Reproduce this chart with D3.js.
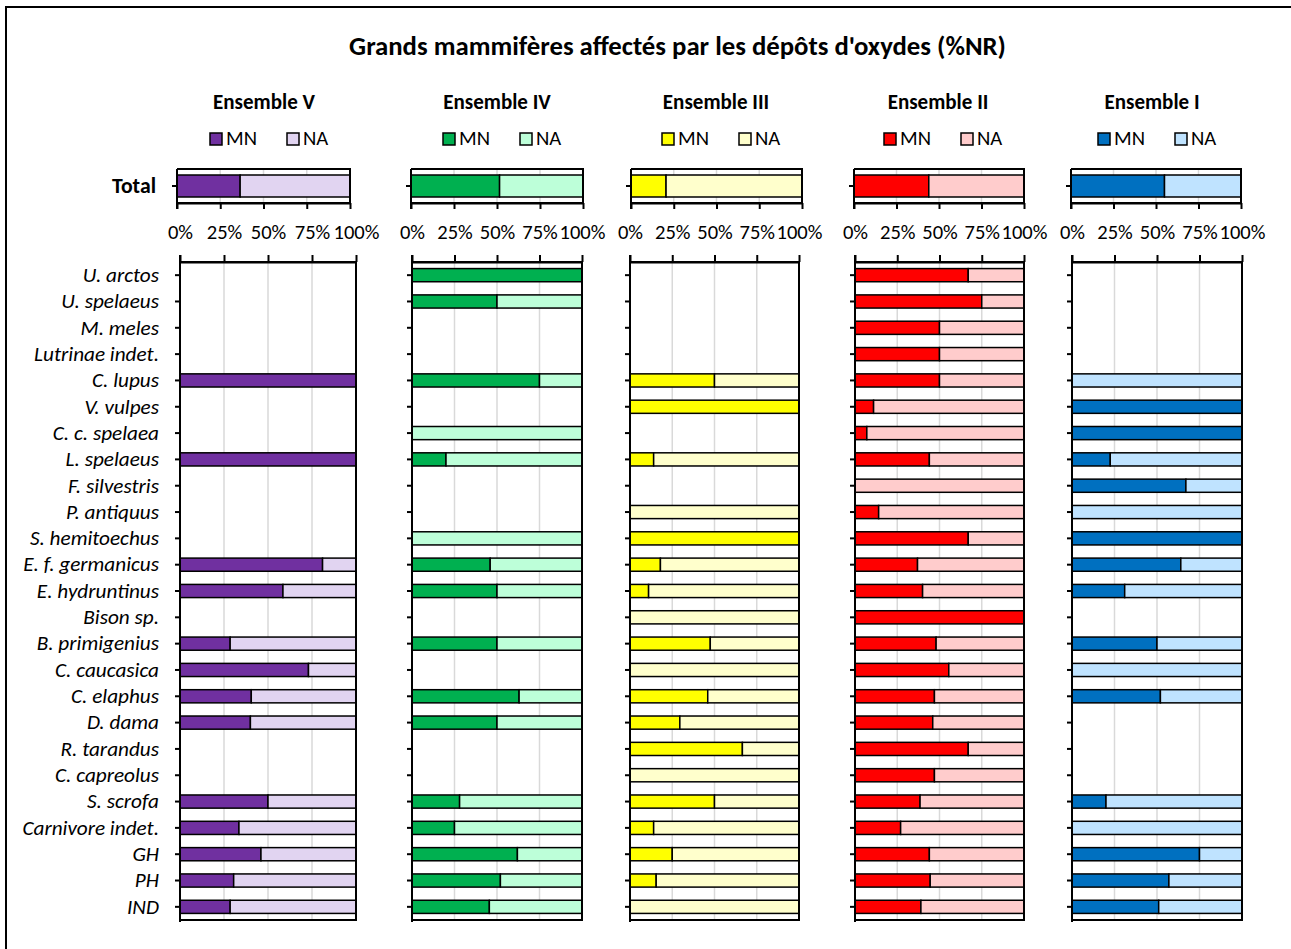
<!DOCTYPE html>
<html>
<head>
<meta charset="utf-8">
<script src="https://cdn.jsdelivr.net/npm/d3@7"></script>
<style>
  html,body{margin:0;padding:0;background:#fff;}
  svg{display:block;}
</style>
</head>
<body>
<script>
// ---------------- DATA ----------------
const chartTitle = "Grands mammifères affectés par les dépôts d'oxydes (%NR)";
const ensembles = ["Ensemble V", "Ensemble IV", "Ensemble III", "Ensemble II", "Ensemble I"];
const seriesKeys = ["MN", "NA"];
const categories = ["U. arctos","U. spelaeus","M. meles","Lutrinae indet.","C. lupus","V. vulpes",
  "C. c. spelaea","L. spelaeus","F. silvestris","P. antiquus","S. hemitoechus","E. f. germanicus",
  "E. hydruntinus","Bison sp.","B. primigenius","C. caucasica","C. elaphus","D. dama","R. tarandus",
  "C. capreolus","S. scrofa","Carnivore indet.","GH","PH","IND"];
const tickValues = [0, 25, 50, 75, 100];
// % MN per category (NA = 100 - MN); null = taxon absent
const mnV   = [null,null,null,null,100,null,null,100,null,null,null,81,58.5,null,28.5,73,40.5,40,null,null,50,33.5,46,30.5,28.5];
const mnIV  = [100,50,null,null,75,null,0,20,null,null,0,46,50,null,50,null,63,50,null,null,28,25,62,52,45.5];
const mnIII = [null,null,null,null,50,100,null,14,null,0,100,18,11,0,47.5,0,46,29.5,66.5,0,50,14,25,15.5,0];
const mnII  = [67,75,50,50,50,11,7,44,0,14,67,37,40,100,48,55.5,47,46,67,47,38.5,27,44,44.5,39];
const mnI   = [null,null,null,null,0,100,100,22.5,67,0,100,64,31,null,50,0,52,null,null,null,20,0,75,57,51];
const mnByEnsemble = [mnV, mnIV, mnIII, mnII, mnI];
const totalMN = [36.5, 51.5, 20.5, 44, 55];

// ---------------- STYLE / LAYOUT ----------------
const colorsMN = ["#7030A0", "#00B050", "#FFFF00", "#FF0000", "#0070C0"];
const colorsNA = ["#E1D4F1", "#BDFFD9", "#FFFFCC", "#FFCCCC", "#BFE3FF"];
const totalX = [[177,350],[411,583],[631,802],[854,1024],[1071,1241]];
const mainX  = [[180,356],[412,582],[630,799],[855,1024],[1072,1242]];
const headerX = [264, 497, 716, 938, 1152];
const totalY = [169, 203];
const mainY  = [262, 920];
const FONT = "Carlito, Calibri, Lato, 'Open Sans', sans-serif";
const W = 1291, H = 949;

const svg = d3.select("body").append("svg").attr("width", W).attr("height", H)
  .style("font-family", FONT);
svg.append("rect").attr("width", W).attr("height", H).attr("fill", "#fff");
svg.append("rect").attr("x", 6).attr("y", 7).attr("width", W + 20).attr("height", H + 20)
  .attr("fill", "none").attr("stroke", "#000").attr("stroke-width", 2);

function fitSize(text, target, weight, style) {
  const base = 20;
  const t = svg.append("text").attr("font-size", base).attr("font-weight", weight || "normal")
    .attr("font-style", style || "normal").text(text);
  const w = t.node().getComputedTextLength();
  t.remove();
  return base * target / w;
}
const titleSize = fitSize(chartTitle, 657, "bold");
const ensSize = fitSize("Ensemble V", 102, "bold");
const catSize = fitSize("Lutrinae indet.", 125, "normal", "italic");
const tickSize = fitSize("100%", 46);
const legSize = fitSize("MN", 31);
const totSize = fitSize("Total", 44, "bold");

// title
svg.append("text").attr("x", 677.5).attr("y", 55).attr("text-anchor", "middle")
  .attr("font-weight", "bold").attr("font-size", titleSize).text(chartTitle);

const yMain = d3.scaleBand().domain(categories).range(mainY).paddingInner(0.5).paddingOuter(0.25);
const yTot = d3.scaleBand().domain(["Total"]).range(totalY).paddingInner(0).paddingOuter(0.273);

ensembles.forEach((ens, i) => {
  const g = svg.append("g");
  const cMN = colorsMN[i], cNA = colorsNA[i];
  const color = d3.scaleOrdinal().domain(seriesKeys).range([cMN, cNA]);
  const xt = d3.scaleLinear().domain([0, 100]).range(totalX[i]);
  const xm = d3.scaleLinear().domain([0, 100]).range(mainX[i]);
  const cx = headerX[i];

  // ensemble title
  g.append("text").attr("x", cx).attr("y", 109).attr("text-anchor", "middle")
    .attr("font-weight", "bold").attr("font-size", ensSize).text(ens);

  // legend
  const legOff = [-54, 23];
  seriesKeys.forEach((k, j) => {
    const lx = cx + legOff[j];
    g.append("rect").attr("x", lx).attr("y", 133).attr("width", 12).attr("height", 12)
      .attr("fill", color(k)).attr("stroke", "#000").attr("stroke-width", 1.5);
    g.append("text").attr("x", lx + 16).attr("y", 145).attr("font-size", legSize).text(k);
  });

  // ---------- Total chart ----------
  const tg = g.append("g");
  tg.selectAll("line.grid").data(tickValues.slice(1, 4)).join("line").attr("class", "grid")
    .attr("x1", d => xt(d)).attr("x2", d => xt(d)).attr("y1", totalY[0]).attr("y2", totalY[1])
    .attr("stroke", "#d9d9d9").attr("stroke-width", 1.5);
  const totRow = [{ cat: "Total", MN: totalMN[i], NA: 100 - totalMN[i] }];
  const totStack = d3.stack().keys(seriesKeys)(totRow);
  totStack.forEach(s => {
    tg.selectAll(null).data(s.filter(d => d[1] - d[0] > 0)).join("rect")
      .attr("x", d => xt(d[0])).attr("width", d => xt(d[1]) - xt(d[0]))
      .attr("y", d => yTot(d.data.cat)).attr("height", yTot.bandwidth())
      .attr("fill", color(s.key)).attr("stroke", "#000").attr("stroke-width", 1.5);
  });
  tg.append("path").attr("d", `M${totalX[i][0]},${totalY[0]}H${totalX[i][1]}V${totalY[1]}H${totalX[i][0]}`)
    .attr("fill", "none").attr("stroke", "#000").attr("stroke-width", 2);
  const axB = tg.append("g").attr("transform", `translate(0,${totalY[1]})`)
    .call(d3.axisBottom(xt).tickValues(tickValues).tickSize(6).tickSizeOuter(0).tickFormat(""));
  const axL = tg.append("g").attr("transform", `translate(${totalX[i][0]},0)`)
    .call(d3.axisLeft(yTot).tickSize(5).tickSizeOuter(0).tickPadding(16)
      .tickFormat(i === 0 ? (d => d) : ""));
  axL.select(".domain").attr("d", `M0,${totalY[0]}V${totalY[1] + 6}`);
  axL.selectAll("text").attr("font-size", totSize).attr("font-weight", "bold")
    .attr("font-family", FONT).attr("fill", "#000");
  [axB, axL].forEach(a => {
    a.selectAll("line").attr("stroke", "#000").attr("stroke-width", 2);
    a.select(".domain").attr("stroke", "#000").attr("stroke-width", 2);
  });

  // ---------- Main chart ----------
  const mg = g.append("g");
  mg.selectAll("line.grid").data(tickValues.slice(1, 4)).join("line").attr("class", "grid")
    .attr("x1", d => xm(d)).attr("x2", d => xm(d)).attr("y1", mainY[0]).attr("y2", mainY[1])
    .attr("stroke", "#d9d9d9").attr("stroke-width", 1.5);
  const rows = categories.map((c, k) => ({ cat: c, v: mnByEnsemble[i][k] }))
    .filter(d => d.v !== null)
    .map(d => ({ cat: d.cat, MN: d.v, NA: 100 - d.v }));
  const stack = d3.stack().keys(seriesKeys)(rows);
  stack.forEach(s => {
    mg.selectAll(null).data(s.filter(d => d[1] - d[0] > 0)).join("rect")
      .attr("x", d => xm(d[0])).attr("width", d => xm(d[1]) - xm(d[0]))
      .attr("y", d => yMain(d.data.cat)).attr("height", yMain.bandwidth())
      .attr("fill", color(s.key)).attr("stroke", "#000").attr("stroke-width", 1.5);
  });
  mg.append("path").attr("d", `M${mainX[i][0]},${mainY[0]}H${mainX[i][1]}V${mainY[1]}H${mainX[i][0]}`)
    .attr("fill", "none").attr("stroke", "#000").attr("stroke-width", 2);
  const axT = mg.append("g").attr("transform", `translate(0,${mainY[0]})`)
    .call(d3.axisTop(xm).tickValues(tickValues).tickSize(7).tickSizeOuter(0).tickPadding(16)
      .tickFormat(d => d + "%"));
  axT.selectAll("text").attr("font-size", tickSize).attr("font-family", FONT).attr("fill", "#000");
  const axM = mg.append("g").attr("transform", `translate(${mainX[i][0]},0)`)
    .call(d3.axisLeft(yMain).tickSize(5).tickSizeOuter(0).tickPadding(16)
      .tickFormat(i === 0 ? (d => d) : ""));
  axM.select(".domain").attr("d", `M0,${mainY[0] - 7}V${mainY[1] + 2}`);
  axM.selectAll("text").attr("font-size", catSize).attr("font-style", "italic")
    .attr("font-family", FONT).attr("fill", "#000");
  [axT, axM].forEach(a => {
    a.selectAll("line").attr("stroke", "#000").attr("stroke-width", 2);
    a.select(".domain").attr("stroke", "#000").attr("stroke-width", 2);
  });
});
</script>
</body>
</html>
